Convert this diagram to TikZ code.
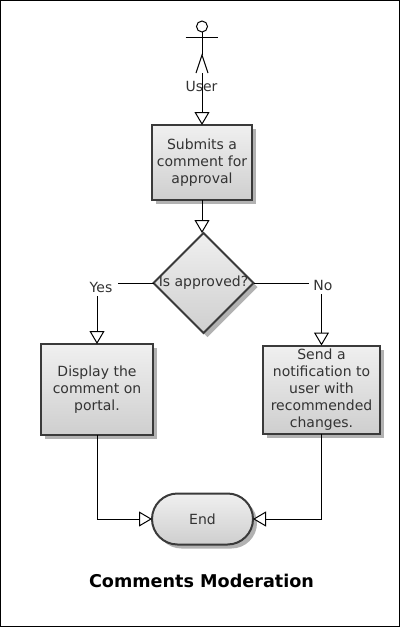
\documentclass[tikz,border=0pt]{standalone}
\usepackage{fontspec}
\setmainfont{DejaVu Sans}
\usetikzlibrary{arrows.meta,shapes.geometric,shapes.misc,shadows}
\definecolor{edgegray}{HTML}{3A3A3A}
\definecolor{textgray}{HTML}{333333}
\definecolor{shadowgray}{HTML}{B2B2B2}
\tikzset{
  flowfont/.style={font=\fontsize{14}{17}\selectfont},
  flowshape/.style={draw=edgegray, line width=2pt, outer sep=0pt, inner sep=0pt, top color=black!6, bottom color=black!19, text=textgray, align=center,
    flowfont, drop shadow={shadow xshift=4pt, shadow yshift=-4pt, fill=shadowgray, opacity=1}},
  flowbox/.style={flowshape, rectangle},
  flowline/.style={draw=black, line width=1pt, -{Triangle[length=13pt,width=15pt,fill=white]}},
  plainline/.style={draw=black, line width=1pt},
  flowlabel/.style={fill=white, text=textgray, inner sep=4pt, flowfont},
}
\begin{document}
\begin{tikzpicture}[x=1pt,y=-1pt]
\useasboundingbox (0,0) rectangle (400,627);
\draw[black, line width=1pt] (.5,.5) rectangle (399.5,626.5);
% actor
\draw[plainline] (202,26.5) circle (5.5);
\draw[plainline] (202,32)--(202,55);
\draw[plainline] (185.5,37)--(217.5,37);
\draw[plainline] (196,73)--(202,55)--(208,73);
\coordinate (userfoot) at (202,73);
% shapes
\node[flowbox, minimum width=100pt, minimum height=75pt] (submit) at (202,162.5) {Submits a\\comment for\\approval};
\node[flowshape, diamond, minimum width=100pt, minimum height=100pt, label={[text=textgray, flowfont]center:Is approved?}] (decision) at (203.5,283) {};
\node[flowbox, minimum width=112pt, minimum height=91pt] (display) at (97,389.5) {Display the\\comment on\\portal.};
\node[flowbox, minimum width=117pt, minimum height=88pt] (notify) at (321.5,389.5) {Send a\\notification to\\user with\\recommended\\changes.};
\node[flowshape, rounded rectangle, minimum width=101pt, minimum height=51pt] (finish) at (202.5,519) {End};
% connectors
\draw[flowline] (userfoot)--(submit);
\node[text=textgray, inner sep=0pt, flowfont] (user) at (201.5,86) {User};
\draw[flowline] (submit.south)--(submit.south |- decision.north);
\draw[flowline] (decision.west) -| (display.north);
\draw[flowline] (decision.east) -| (notify.north);
\draw[flowline] (display.south) |- (finish.west);
\draw[flowline] (notify.south) |- (finish.east);
\node[flowlabel, inner xsep=6pt] (yes) at (101,287) {Yes};
\node[flowlabel] (no) at (323,285) {No};
\node[font=\fontsize{17.6}{20}\selectfont\bfseries, text=black] (title) at (201.5,581) {Comments Moderation};
\end{tikzpicture}
\end{document}
